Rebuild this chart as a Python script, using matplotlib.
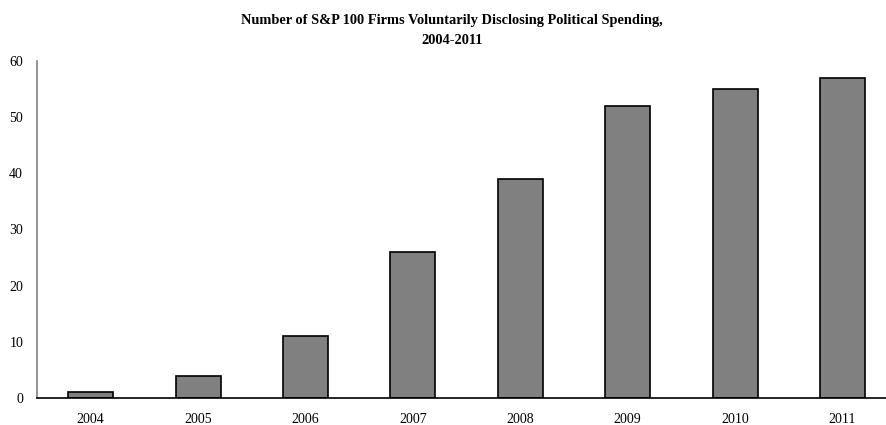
import matplotlib
matplotlib.use("Agg")
import matplotlib.pyplot as plt

# Data
years = ["2004", "2005", "2006", "2007", "2008", "2009", "2010", "2011"]
firms = [1, 4, 11, 26, 39, 52, 55, 57]

plt.rcParams["font.family"] = ["Liberation Serif", "DejaVu Serif"]

fig = plt.figure(figsize=(8.86, 4.25), dpi=100)
ax = fig.add_axes([37 / 886, 27 / 425, 849 / 886, 337 / 425])

x = range(len(years))
ax.bar(x, firms, width=0.42, color="#808080", edgecolor="black", linewidth=1.2)

ax.set_xlim(-0.5, 7.405)
ax.set_ylim(0, 60)
ax.set_yticks(range(0, 61, 10))
ax.set_xticks(list(x))
ax.set_xticklabels(years)
ax.tick_params(axis="both", length=0, labelsize=10)
ax.tick_params(axis="x", pad=11)
ax.tick_params(axis="y", pad=10)

ax.spines["top"].set_visible(False)
ax.spines["right"].set_visible(False)
ax.spines["left"].set_color("#808080")
ax.spines["left"].set_linewidth(1.2)
ax.spines["bottom"].set_color("black")
ax.spines["bottom"].set_linewidth(1.2)

fig.text(0.51, 0.968, "Number of S&P 100 Firms Voluntarily Disclosing Political Spending,\n2004-2011",
         ha="center", va="top", fontsize=10.4, fontweight="bold", linespacing=1.75)

fig.savefig("out.png", dpi=100)
